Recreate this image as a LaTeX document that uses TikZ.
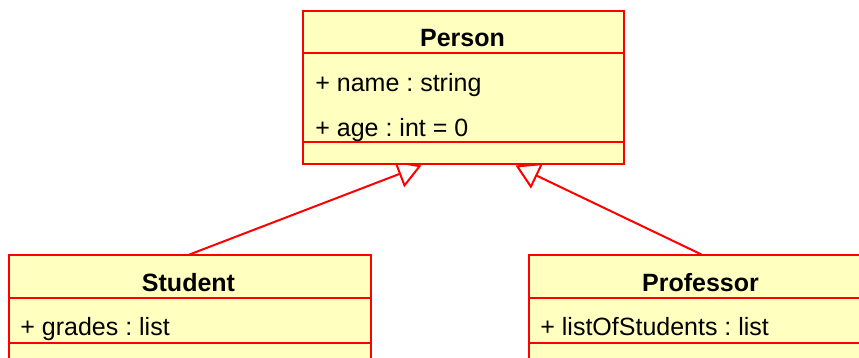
\documentclass[tikz,border=0pt]{standalone}
\usepackage{fontspec}
\setmainfont{Liberation Sans}
\frenchspacing
\usetikzlibrary{arrows.meta,positioning,backgrounds}
\definecolor{umlred}{RGB}{255,0,0}
\definecolor{umlfill}{RGB}{255,255,192}
\tikzset{
  classbox/.style={draw=umlred, line width=1pt, fill=umlfill, inner sep=0pt, anchor=north west},
  classname/.style={font=\fontsize{12.5}{15}\selectfont\bfseries, anchor=base, inner sep=0pt},
  attr/.style={font=\fontsize{12.5}{15}\selectfont, anchor=base west, inner sep=0pt},
  divider/.style={draw=umlred, line width=1pt},
  inherit/.style={draw=umlred, line width=1pt, -{Triangle[open,length=12pt,width=14pt]}}
}

\begin{document}
\begin{tikzpicture}[x=0.5pt,y=-0.5pt]
      \useasboundingbox (0,0) rectangle (859,358);

      \node[classbox, minimum width=160.5pt, minimum height=76.5pt] (person) at (302,10.5) {};
      \draw[divider] (302,53.5) -- (623,53.5);
      \draw[divider] (302,142.5) -- (623,142.5);
      \node[classname] (personname) at (462.5,47) {Person};
      \node[attr] (personattrname) at (315,92) {+ name : string};
      \node[attr] (personattrage) at (315,137) {+ age : int = 0};

      \node[classbox, minimum width=181pt, minimum height=80pt] (student) at (7.5,254.5) {};
      \draw[divider] (7.5,298.5) -- (369.5,298.5);
      \draw[divider] (7.5,343) -- (369.5,343);
      \node[classname] (studentname) at (188.5,292) {Student};
      \node[attr] (studentattrgrades) at (20,336) {+ grades : list};

      \node[classbox, minimum width=173pt, minimum height=80pt] (professor) at (527.5,254.5) {};
      \draw[divider] (527.5,298.5) -- (873.5,298.5);
      \draw[divider] (527.5,343) -- (873.5,343);
      \node[classname] (professorname) at (700.5,292) {Professor};
      \node[attr] (professorattrlist) at (540,336) {+ listOfStudents : list};

      \begin{scope}[on background layer]
      \draw[inherit] (student.north) -- ([xshift=-21pt]person.south);
      \draw[inherit] (professor.north) -- ([xshift=26pt]person.south);
      \end{scope}
    \end{tikzpicture}
\end{document}
